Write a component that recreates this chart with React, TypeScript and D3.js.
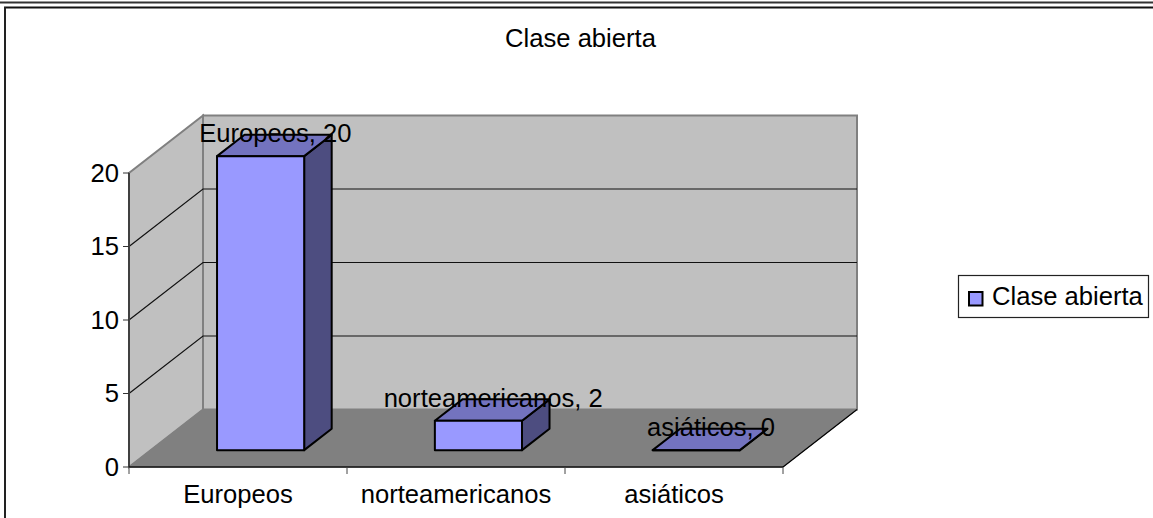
import React from "react";
import * as d3 from "d3";

const categories = ["Europeos", "norteamericanos", "asiáticos"];
const values = [20, 2, 0];
const yTicks = [0, 5, 10, 15, 20];
const seriesName = "Clase abierta";

const W = 1153, H = 518;
const font = "'Liberation Sans', Arial, sans-serif";
const FS = 25.6;
const x = d3.scaleBand<string>().domain(categories).range([129, 783]);
const barX = d3.scaleBand<string>().domain(categories).range([130, 783.5]).paddingInner(0.6).paddingOuter(0.3);
const y = d3.scaleLinear().domain([0, 20]).range([467, 173]);
const depthX = 74, depthY = -57.5;
const P = (px: number, py: number, d = 0): [number, number] => [px + d * depthX, py + d * depthY];
const poly = (pts: [number, number][]) => d3.line()(pts)! + "Z";
const [x0, x1] = x.range();
const barFront = 0.293, barBack = 0.665;

export default function App() {
  const bw = barX.bandwidth();
  return (
    <svg width={W} height={H} style={{ position: "fixed", left: 0, top: 0, background: "#fff" }} fontFamily={font}>
      <rect x={0} y={0} width={W} height={H} fill="#fff" />
      <line x1={0} x2={W} y1={2.5} y2={2.5} stroke="#333" strokeWidth={2} />
      <line x1={4} x2={W} y1={7.5} y2={7.5} stroke="#111" strokeWidth={2} />
      <line x1={5} x2={5} y1={7} y2={H} stroke="#222" strokeWidth={2} />
      <text x={580.5} y={47} textAnchor="middle" fontSize={FS}>{seriesName}</text>

      {/* walls and floor */}
      <path d={poly([P(x0, y(0), 1), P(x1, y(0), 1), P(x1, y(20), 1), P(x0, y(20), 1)])} fill="#c0c0c0" stroke="#808080" strokeWidth={2} />
      <path d={poly([P(x0, y(0)), P(x0, y(0), 1), P(x0, y(20), 1), P(x0, y(20))])} fill="#c0c0c0" stroke="#808080" strokeWidth={2} />
      <path d={poly([P(x0, y(0)), P(x1, y(0)), P(x1, y(0), 1), P(x0, y(0), 1)])} fill="#808080" stroke="#808080" />
      {yTicks.filter(t => t > 0 && t < 20).map(t => (
        <path key={t} d={d3.line()([P(x0, y(t)), P(x0, y(t), 1), P(x1, y(t), 1)])!} fill="none" stroke="#111" strokeWidth={1.2} />
      ))}
      <path d={d3.line()([P(x1, y(0)), P(x1, y(0), 1)])!} stroke="#000" fill="none" strokeWidth={1.2} />

      {/* axes */}
      <line x1={x0} x2={x0} y1={y(20)} y2={y(0)} stroke="#404040" strokeWidth={2} />
      <line x1={x0} x2={x1} y1={y(0)} y2={y(0)} stroke="#111" strokeWidth={1.5} />
      {yTicks.map(t => (
        <g key={t}>
          <line x1={x0 - 6} x2={x0} y1={y(t)} y2={y(t)} stroke="#333" />
          <text x={x0 - 10} y={y(t) + 8.5} textAnchor="end" fontSize={FS}>{t}</text>
        </g>
      ))}
      {[...categories.map(c => x(c)!), x1].map((v, i) => (
        <line key={i} x1={v} x2={v} y1={y(0)} y2={y(0) + 7} stroke="#444" />
      ))}
      {categories.map(c => (
        <text key={c} x={x(c)! + x.bandwidth() / 2} y={503} textAnchor="middle" fontSize={FS}>{c}</text>
      ))}

      {/* bars */}
      {categories.map((c, i) => {
        const l = barX(c)!, r = l + bw, v = values[i];
        const fl = P(l, y(0), barFront), fr = P(r, y(0), barFront);
        const tl = P(l, y(v), barFront), tr = P(r, y(v), barFront);
        const bl = P(l, y(v), barBack), br = P(r, y(v), barBack);
        const sb = P(r, y(0), barBack);
        return (
          <g key={c} stroke="#000" strokeWidth={2} strokeLinejoin="round">
            <path d={poly([fr, sb, br, tr])} fill="#4d4d80" />
            <path d={poly([tl, tr, br, bl])} fill="#7373bf" />
            <path d={poly([fl, fr, tr, tl])} fill="#9999ff" />
          </g>
        );
      })}
      {categories.map((c, i) => {
        const l = barX(c)!;
        const cx = P(l + bw / 2, y(values[i]), (barFront + barBack) / 2)[0];
        const cy = P(l, y(values[i]), barBack)[1];
        return (
          <text key={c} x={cx + 1} y={cy + 7.5} textAnchor="middle" fontSize={FS}>{`${c}, ${values[i]}`}</text>
        );
      })}

      {/* legend */}
      <rect x={958.5} y={275.5} width={190} height={42} fill="#fff" stroke="#222" strokeWidth={1.2} />
      <rect x={969} y={292} width={13.5} height={13.5} fill="#9999ff" stroke="#000" strokeWidth={2} />
      <text x={992} y={305} fontSize={FS}>{seriesName}</text>
    </svg>
  );
}
